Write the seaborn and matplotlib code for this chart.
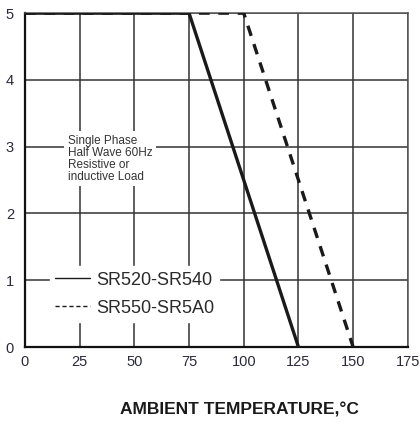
import pandas as pd
import seaborn as sns
import matplotlib.pyplot as plt

# Derating curves (ambient temperature vs average forward current)
temp_low = [0, 75, 125]
amps_low = [5, 5, 0]
temp_high = [0, 100, 150]
amps_high = [5, 5, 0]
label_low = 'SR520-SR540'
label_high = 'SR550-SR5A0'
x_ticks = [0, 25, 50, 75, 100, 125, 150, 175]
y_ticks = [0, 1, 2, 3, 4, 5]

df_low = pd.DataFrame({'temp': temp_low, 'amps': amps_low})
df_high = pd.DataFrame({'temp': temp_high, 'amps': amps_high})

sns.set_style('white')
plt.rcParams['font.family'] = ['Liberation Sans', 'DejaVu Sans']

fig = plt.figure(figsize=(4.2, 4.24), dpi=100)
ax = fig.add_axes([0.0595, 0.1816, 0.9115, 0.7874])

sns.lineplot(x='temp', y='amps', data=df_high, ax=ax, color='#1a1a1a',
             linewidth=2.4, linestyle=(0, (3.2, 2.6)), label=label_high, zorder=3)
sns.lineplot(x='temp', y='amps', data=df_low, ax=ax, color='#1a1a1a',
             linewidth=2.4, label=label_low, zorder=4)

ax.set_xlim(0, 175)
ax.set_ylim(0, 5)
ax.set_xticks(x_ticks)
ax.set_yticks(y_ticks)
ax.grid(True, color='#333333', linewidth=1.1)
ax.set_axisbelow(True)
ax.tick_params(axis='both', length=0, labelsize=10.5, colors='#2a2a3a', pad=6)
ax.tick_params(axis='y', pad=8)
ax.set_xlabel('')
ax.set_ylabel('')

for side in ['left', 'bottom']:
    ax.spines[side].set_color('#111111')
    ax.spines[side].set_linewidth(1.6)
for side in ['top', 'right']:
    ax.spines[side].set_color('#555555')
    ax.spines[side].set_linewidth(1.1)

# Note box
ax.text(19.5, 3.18, 'Single Phase\nHalf Wave 60Hz\nResistive or\ninductive Load',
        fontsize=8.5, color='#333333', va='top', ha='left', linespacing=1.0,
        bbox=dict(facecolor='white', edgecolor='none', pad=2.5), zorder=5)

# Legend with thin handles, solid first
handles, labels = ax.get_legend_handles_labels()
order = [labels.index(label_low), labels.index(label_high)]
leg = ax.legend([handles[i] for i in order], [labels[i] for i in order],
                loc='lower left', bbox_to_anchor=(0.065, 0.075),
                frameon=True, fontsize=13, handlelength=1.9, handletextpad=0.35,
                labelspacing=0.6, borderpad=0.3, borderaxespad=0.0)
leg.get_frame().set_edgecolor('white')
leg.get_frame().set_facecolor('white')
leg.get_frame().set_alpha(1)
for line in leg.get_lines():
    line.set_linewidth(1.0)
    line.set_linestyle('-' if line.get_label() == label_low else (0, (3, 2)))
for t in leg.get_texts():
    t.set_color('#2a2a2a')

fig.text(0.571, 1 - 410 / 424, 'AMBIENT TEMPERATURE,\u00b0C', ha='center', va='center',
         fontsize=12.5, fontweight='bold', color='#1a1a1a')

plt.savefig('out.png', dpi=100)
plt.close()
